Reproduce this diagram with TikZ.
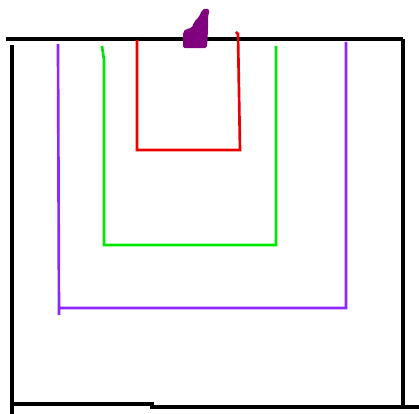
\documentclass[tikz,border=0pt]{standalone}
\definecolor{upurple}{RGB}{140,40,255}
\definecolor{ugreen}{RGB}{0,230,0}
\definecolor{ured}{RGB}{235,0,0}
\definecolor{blob}{RGB}{128,0,128}
\begin{document}
\begin{tikzpicture}[x=0.75pt,y=-0.75pt,
  wall/.style={draw=black,line width=2.3pt},
  ushape/.style={line width=2pt,line join=miter}]
\useasboundingbox[fill=white] (0,0) rectangle (419,414);
% outer frame
\draw[wall] (6,39) -- (403,39);
\draw[wall] (12,45) -- (12,414);
\draw[wall] (403,39) -- (403,405);
\draw[wall] (12,404) -- (152,404) -- (152,407) -- (419,407);
% nested U shapes
\draw[ushape,draw=upurple] (58,44) -- (59,315) (59,308) -- (346,308) -- (346,42);
\draw[ushape,draw=ugreen] (102,46) -- (104,60) -- (104,245) -- (276,245) -- (276,46);
\draw[ushape,draw=ured] (137,40) -- (137,150) -- (240,150) -- (238,34) -- (236,32);
% purple blob
\fill[blob,rounded corners=1.5pt] (183,48) -- (183,32) -- (186,29) -- (192,28) -- (194,22) -- (199,17) -- (202,10) -- (206,8) -- (210,10) -- (208,16) -- (208,30) -- (207,48) -- cycle;
\end{tikzpicture}
\end{document}
